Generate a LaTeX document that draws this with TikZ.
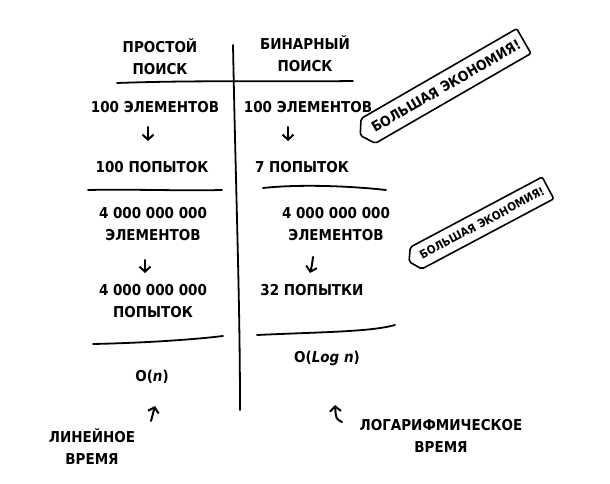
\documentclass[tikz,border=0pt]{standalone}
\usepackage{fontspec}
\setmainfont{DejaVu Sans Condensed}
\usetikzlibrary{arrows.meta,shapes.symbols}
\begin{document}
\begin{tikzpicture}[x=1pt,y=-1pt,
  txt/.style={font=\bfseries\fontsize{15}{22}\selectfont, align=center, inner sep=0pt},
  hand/.style={line width=1.8pt, line cap=round},
  arr/.style={line width=2pt, line cap=round, -{Straight Barb[length=5pt,width=11pt,line width=2pt]}},
  badge/.style={draw, line width=1.6pt, shape=signal, signal to=west, signal pointer angle=115,
    rounded corners=2pt, font=\bfseries, inner xsep=5pt}]
\useasboundingbox (0,0) rectangle (610,484);
% headers
\node[txt] (hL) at (160,57) {ПРОСТОЙ\\ПОИСК};
\node[txt] (hR) at (305,54) {БИНАРНЫЙ\\ПОИСК};
% rows
\node[txt] (l1) at (155,107) {100 ЭЛЕМЕНТОВ};
\node[txt] (r1) at (308,107) {100 ЭЛЕМЕНТОВ};
\node[txt] (l2) at (152,167) {100 ПОПЫТОК};
\node[txt] (r2) at (302,167) {7 ПОПЫТОК};
\node[txt] (l3) at (153,224) {4 000 000 000\\ЭЛЕМЕНТОВ};
\node[txt] (r3) at (336,224) {4 000 000 000\\ЭЛЕМЕНТОВ};
\node[txt] (l4) at (153,301) {4 000 000 000\\ПОПЫТОК};
\node[txt] (r4) at (312,290) {32 ПОПЫТКИ};
\node[txt] (lO) at (152,377) {O(\textit{n})};
\node[txt] (rO) at (327,358) {O(\textit{Log n})};
\node[txt] (linT) at (92,447) {ЛИНЕЙНОЕ\\ВРЕМЯ};
\node[txt] (logT) at (441,436) {ЛОГАРИФМИЧЕСКОЕ\\ВРЕМЯ};
% badges
\node[badge, rotate=30, inner ysep=9pt, font=\bfseries\fontsize{14}{14}\selectfont] (b1) at (446,86) {БОЛЬШАЯ ЭКОНОМИЯ!};
\node[badge, rotate=28, inner ysep=8pt, font=\bfseries\fontsize{11.5}{12}\selectfont] (b2) at (482,223) {БОЛЬШАЯ ЭКОНОМИЯ!};
% table lines
\draw[hand] (233,45) .. controls (236,200) and (240,300) .. (240,410);
\draw[hand] (117,83) .. controls (200,80) and (280,82) .. (353,81);
\draw[hand] (88,190) .. controls (130,189) and (180,191) .. (222,190);
\draw[hand] (263,188) .. controls (300,184) and (350,186) .. (386,190);
\draw[hand] (93,344) .. controls (140,343) and (190,340) .. (223,336);
\draw[hand] (257,335) .. controls (320,332) and (370,332) .. (395,325);
% arrows
\coordinate (a1s) at (148,127); \coordinate (a1e) at (148,141);
\coordinate (a2s) at (288,127); \coordinate (a2e) at (288,141);
\coordinate (a3s) at (145,260); \coordinate (a3e) at (145,273);
\coordinate (a4s) at (313,257); \coordinate (a4e) at (310,273);
\coordinate (a5s) at (151,421); \coordinate (a5e) at (155,406);
\coordinate (a6s) at (342,422); \coordinate (a6e) at (335,405);
\draw[arr] (a1s) -- (a1e);
\draw[arr] (a2s) -- (a2e);
\draw[arr] (a3s) -- (a3e);
\draw[arr] (a4s) .. controls (312,265) .. (a4e);
\draw[arr] (a5s) -- (a5e);
\draw[arr] (a6s) .. controls (336,419) .. (a6e);
\end{tikzpicture}
\end{document}
